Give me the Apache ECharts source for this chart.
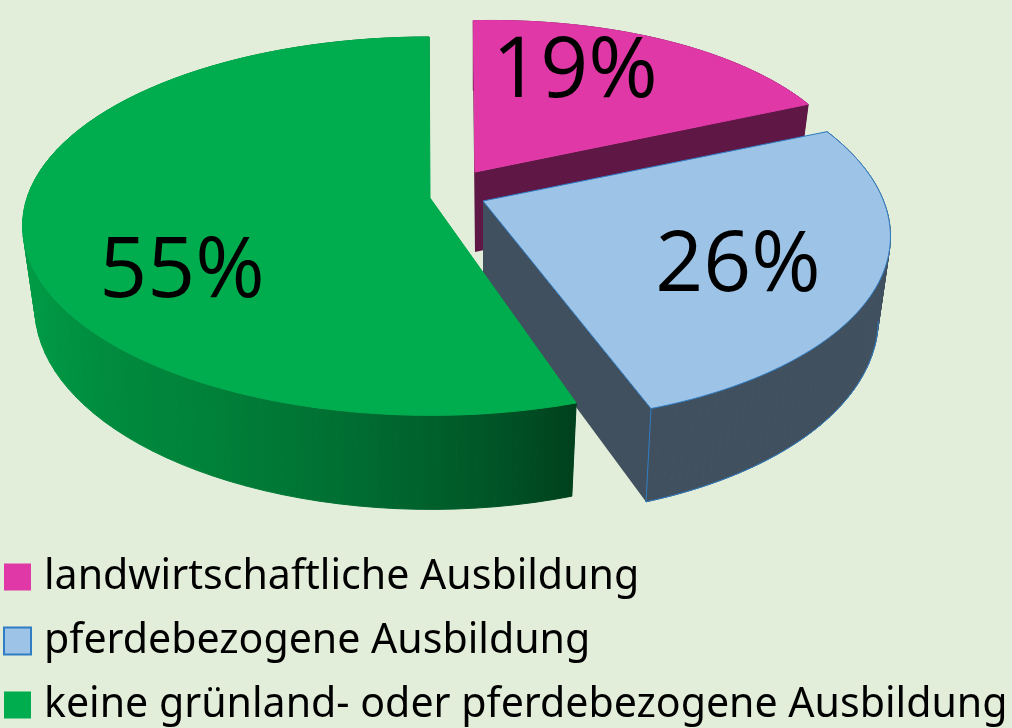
<!DOCTYPE html>
<html>
<head>
<meta charset="utf-8">
<style>
    html, body { margin: 0; padding: 0; background: #e2eed9; }
    #chart { width: 1012px; height: 728px; overflow: hidden; }
</style>
<script src="https://cdn.jsdelivr.net/npm/echarts@6/dist/echarts.min.js"></script>
</head>
<body>
<div id="chart"></div>
<script>
    var categories = ['landwirtschaftliche Ausbildung', 'pferdebezogene Ausbildung', 'keine grünland- oder pferdebezogene Ausbildung'];
    var shares = [19, 26, 55];

    // 3D look of each slice (apex, size, slant)
    var apexX = [475, 483, 430];
    var apexY = [172, 201, 198];
    var sizes = [0.94, 0.99, 1];
    var stretch = [1, 1.03, 1];
    var skews = [-2, -22, -1];
    var lifts = [8, 4, 0];
    var labelX = [575, 738, 182];
    var labelY = [73, 267, 273];
    var topColors = ['#e038a6', '#9dc3e6', '#00ad4e'];
    var cutColors = ['#5f1746', '#41505f', '#006b30'];
    var edgeColors = [null, '#2f7dc4', null];
    var wallStops = [
        [[0, '#5f1746'], [1, '#5f1746']],
        [[0, '#41505f'], [1, '#41505f']],
        [[0, '#009c46'], [0.14, '#008c3f'], [0.32, '#00823a'], [0.5, '#007534'], [0.63, '#006a30'], [0.75, '#005f2b'], [0.87, '#005226'], [1, '#00401c']]
    ];

    var RX = 403, RY = 185, PERSP = 0.149, DEPTH = 80, TAPER = 0.97;

    function project(i, theta, r, drop) {
        var u = Math.sin(theta) * r, v = Math.cos(theta) * r;
        var w = 1 + PERSP * v;
        var dx = (RX * sizes[i] * u + skews[i] * v) / w;
        var dy = (-RY * sizes[i] * stretch[i] * v - lifts[i] * u) / w;
        if (drop) {
            dx = dx * TAPER;
            dy = dy + DEPTH / w;
        }
        return [apexX[i] + dx, apexY[i] + dy];
    }

    function arcPoints(i, a0, a1, drop) {
        var pts = [];
        var steps = 80;
        for (var k = 0; k <= steps; k++) {
            pts.push(project(i, a0 + (a1 - a0) * k / steps, 1, drop));
        }
        return pts;
    }

    function renderSlice(i) {
        return function (params, api) {
            var total = shares.reduce(function (a, b) { return a + b; }, 0);
            var before = shares.slice(0, i).reduce(function (a, b) { return a + b; }, 0);
            var a0 = before / total * Math.PI * 2;
            var a1 = (before + api.value(0)) / total * Math.PI * 2;

            var topArc = arcPoints(i, a0, a1, false);
            var bottomArc = arcPoints(i, a0, a1, true);
            var apexTop = project(i, 0, 0, false);
            var apexBottom = project(i, 0, 0, true);
            var edge = edgeColors[i];
            var children = [];

            // cut faces
            [0, 1].forEach(function (n) {
                var t = n ? topArc[topArc.length - 1] : topArc[0];
                var b = n ? bottomArc[bottomArc.length - 1] : bottomArc[0];
                children.push({
                    type: 'polygon',
                    shape: { points: [apexTop, t, b, apexBottom] },
                    style: { fill: cutColors[i] }
                });
            });
            // outer wall, as strips so the silhouette stays straight at the sides
            var xs = topArc.concat(bottomArc).map(function (p) { return p[0]; });
            var wallFill = new echarts.graphic.LinearGradient(Math.min.apply(null, xs), 0, Math.max.apply(null, xs), 0, wallStops[i].map(function (s) {
                return { offset: s[0], color: s[1] };
            }), true);
            for (var k = 0; k < topArc.length - 1; k++) {
                children.push({
                    type: 'polygon',
                    shape: { points: [topArc[k], topArc[k + 1], bottomArc[k + 1], bottomArc[k]] },
                    style: { fill: wallFill, stroke: wallFill, lineWidth: 1 }
                });
            }
            if (edge) {
                // only the part of the lower rim that faces the viewer
                var rim = bottomArc.filter(function (p, n) {
                    return n > 0 && p[0] < bottomArc[n - 1][0];
                });
                children.push({
                    type: 'polyline',
                    shape: { points: [topArc[topArc.length - 1]].concat(rim.slice().reverse()) },
                    style: { stroke: edge, lineWidth: 1, fill: null }
                });
            }
            // top
            children.push({
                type: 'polygon',
                shape: { points: [apexTop].concat(topArc) },
                style: { fill: topColors[i], stroke: edge || topColors[i], lineWidth: 1 }
            });
            children.push({
                type: 'text',
                z2: 10,
                style: {
                    text: api.value(0) + '%',
                    x: labelX[i],
                    y: labelY[i],
                    fill: '#000',
                    fontFamily: 'Open Sans',
                    fontWeight: 400,
                    fontSize: 84,
                    align: 'center',
                    verticalAlign: 'middle'
                }
            });
            return { type: 'group', children: children };
        };
    }

    var chart = echarts.init(document.getElementById('chart'));
    var option = {
        backgroundColor: '#e2eed9',
        animation: false,
        graphic: [{
            type: 'text',
            x: 915,
            y: -74,
            z: 100,
            style: { text: 'Re', fill: '#000', fontFamily: 'Noto Sans', fontSize: 92 }
        }],
        legend: {
            orient: 'vertical',
            left: 3,
            top: 556,
            padding: 0,
            itemWidth: 27,
            itemHeight: 27,
            itemGap: 22,
            selectedMode: false,
            textStyle: { color: '#000', fontFamily: 'Noto Sans', fontSize: 41.1, lineHeight: 42, padding: [0, 0, 0, 8] },
            data: categories.map(function (name, i) {
                return {
                    name: name,
                    icon: 'rect',
                    itemStyle: { color: topColors[i], borderColor: edgeColors[i] || topColors[i], borderWidth: edgeColors[i] ? 2 : 0 }
                };
            })
        },
        series: categories.map(function (name, i) {
            return {
                type: 'custom',
                name: name,
                coordinateSystem: 'none',
                z: i + 1,
                silent: true,
                itemStyle: { color: topColors[i] },
                renderItem: renderSlice(i),
                data: [[shares[i]]]
            };
        })
    };
    chart.setOption(option);
</script>
</body>
</html>
